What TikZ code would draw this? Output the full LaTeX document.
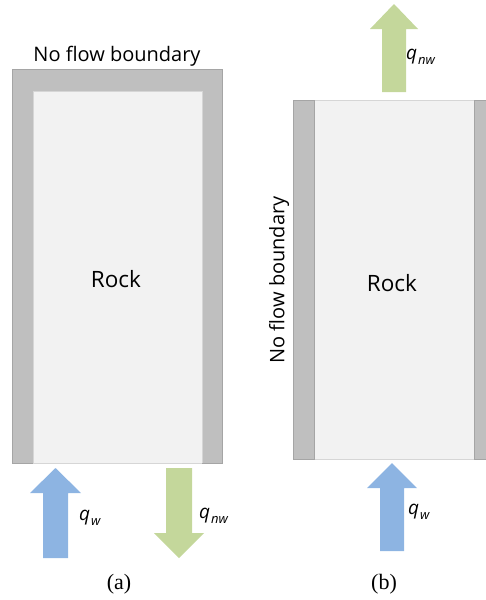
\documentclass[tikz,border=0pt]{standalone}
\usepackage{fontspec}
\setmainfont{Open Sans}
\newfontfamily\capfont{Liberation Serif}
\definecolor{wallfill}{HTML}{BFBFBF}
\definecolor{walledge}{HTML}{A5A5A5}
\definecolor{rockfill}{HTML}{F2F2F2}
\definecolor{rockedge}{HTML}{D6D6D6}
\definecolor{wblue}{HTML}{8DB4E2}
\definecolor{nwgreen}{HTML}{C4D79B}
\newcommand{\qsub}[1]{{\itshape q\kern0.05em\raisebox{-0.45ex}{\fontsize{13}{13}\selectfont #1}}}
\tikzset{
  wall/.style={fill=wallfill,draw=walledge,line width=1pt},
  rock/.style={fill=rockfill,draw=rockedge,line width=1pt},
  lbl/.style={font=\fontsize{20}{22}\selectfont,inner sep=0pt},
  rocklbl/.style={font=\fontsize{22.5}{24}\selectfont,inner sep=0pt},
  qlbl/.style={font=\fontsize{19}{21}\selectfont,inner sep=0pt,anchor=west},
  captext/.style={font=\capfont\fontsize{22}{24}\selectfont,inner sep=0pt},
}
\begin{document}
\begin{tikzpicture}[x=1pt,y=-1pt]
\useasboundingbox (0,0) rectangle (485,600);
% ---------- panel (a)
\fill[wall] (12,69) rectangle (222,463);
\fill[rock] (33,91) rectangle (202,463);
\draw[walledge,line width=1pt] (12,463) -- (12,69) -- (222,69) -- (222,463) -- (202,463);
\draw[walledge,line width=1pt] (33,463) -- (12,463);
\node[lbl] (nfa) at (117,56) {No flow boundary};
\node[rocklbl] (rocka) at (116,279) {Rock};
% qw arrow up
\fill[wblue] (43,558) -- (43,493) -- (30,493) -- (55.5,468) -- (81,493) -- (68,493) -- (68,558) -- cycle;
\node[qlbl] (qwa) at (79,518) {\qsub{w}};
% qnw arrow down
\fill[nwgreen] (166,468) -- (192,468) -- (192,533) -- (204,533) -- (179,558) -- (154,533) -- (166,533) -- cycle;
\node[qlbl] (qnwa) at (199,516) {\qsub{nw}};
\node[captext] (capa) at (119,584) {(a)};
% ---------- panel (b)
\fill[rock] (314,100) rectangle (474,459);
\draw[rockedge,line width=1pt] (293,100) -- (485,100);
\draw[rockedge,line width=1pt] (293,459) -- (485,459);
\fill[wall] (293,100) rectangle (314,459);
\fill[wall] (474,100) rectangle (490,459);
\node[lbl,rotate=90] (nfb) at (279,280) {No flow boundary};
\node[rocklbl] (rockb) at (392,283) {Rock};
% qnw arrow up
\fill[nwgreen] (382,92) -- (382,29) -- (370,29) -- (394,4) -- (418,29) -- (406,29) -- (406,92) -- cycle;
\node[qlbl] (qnwb) at (406,57) {\qsub{nw}};
% qw arrow up
\fill[wblue] (380,551) -- (380,488) -- (367,488) -- (392,463) -- (417,488) -- (404,488) -- (404,551) -- cycle;
\node[qlbl] (qwb) at (408,512) {\qsub{w}};
\node[captext] (capb) at (384,584) {(b)};
\end{tikzpicture}
\end{document}
